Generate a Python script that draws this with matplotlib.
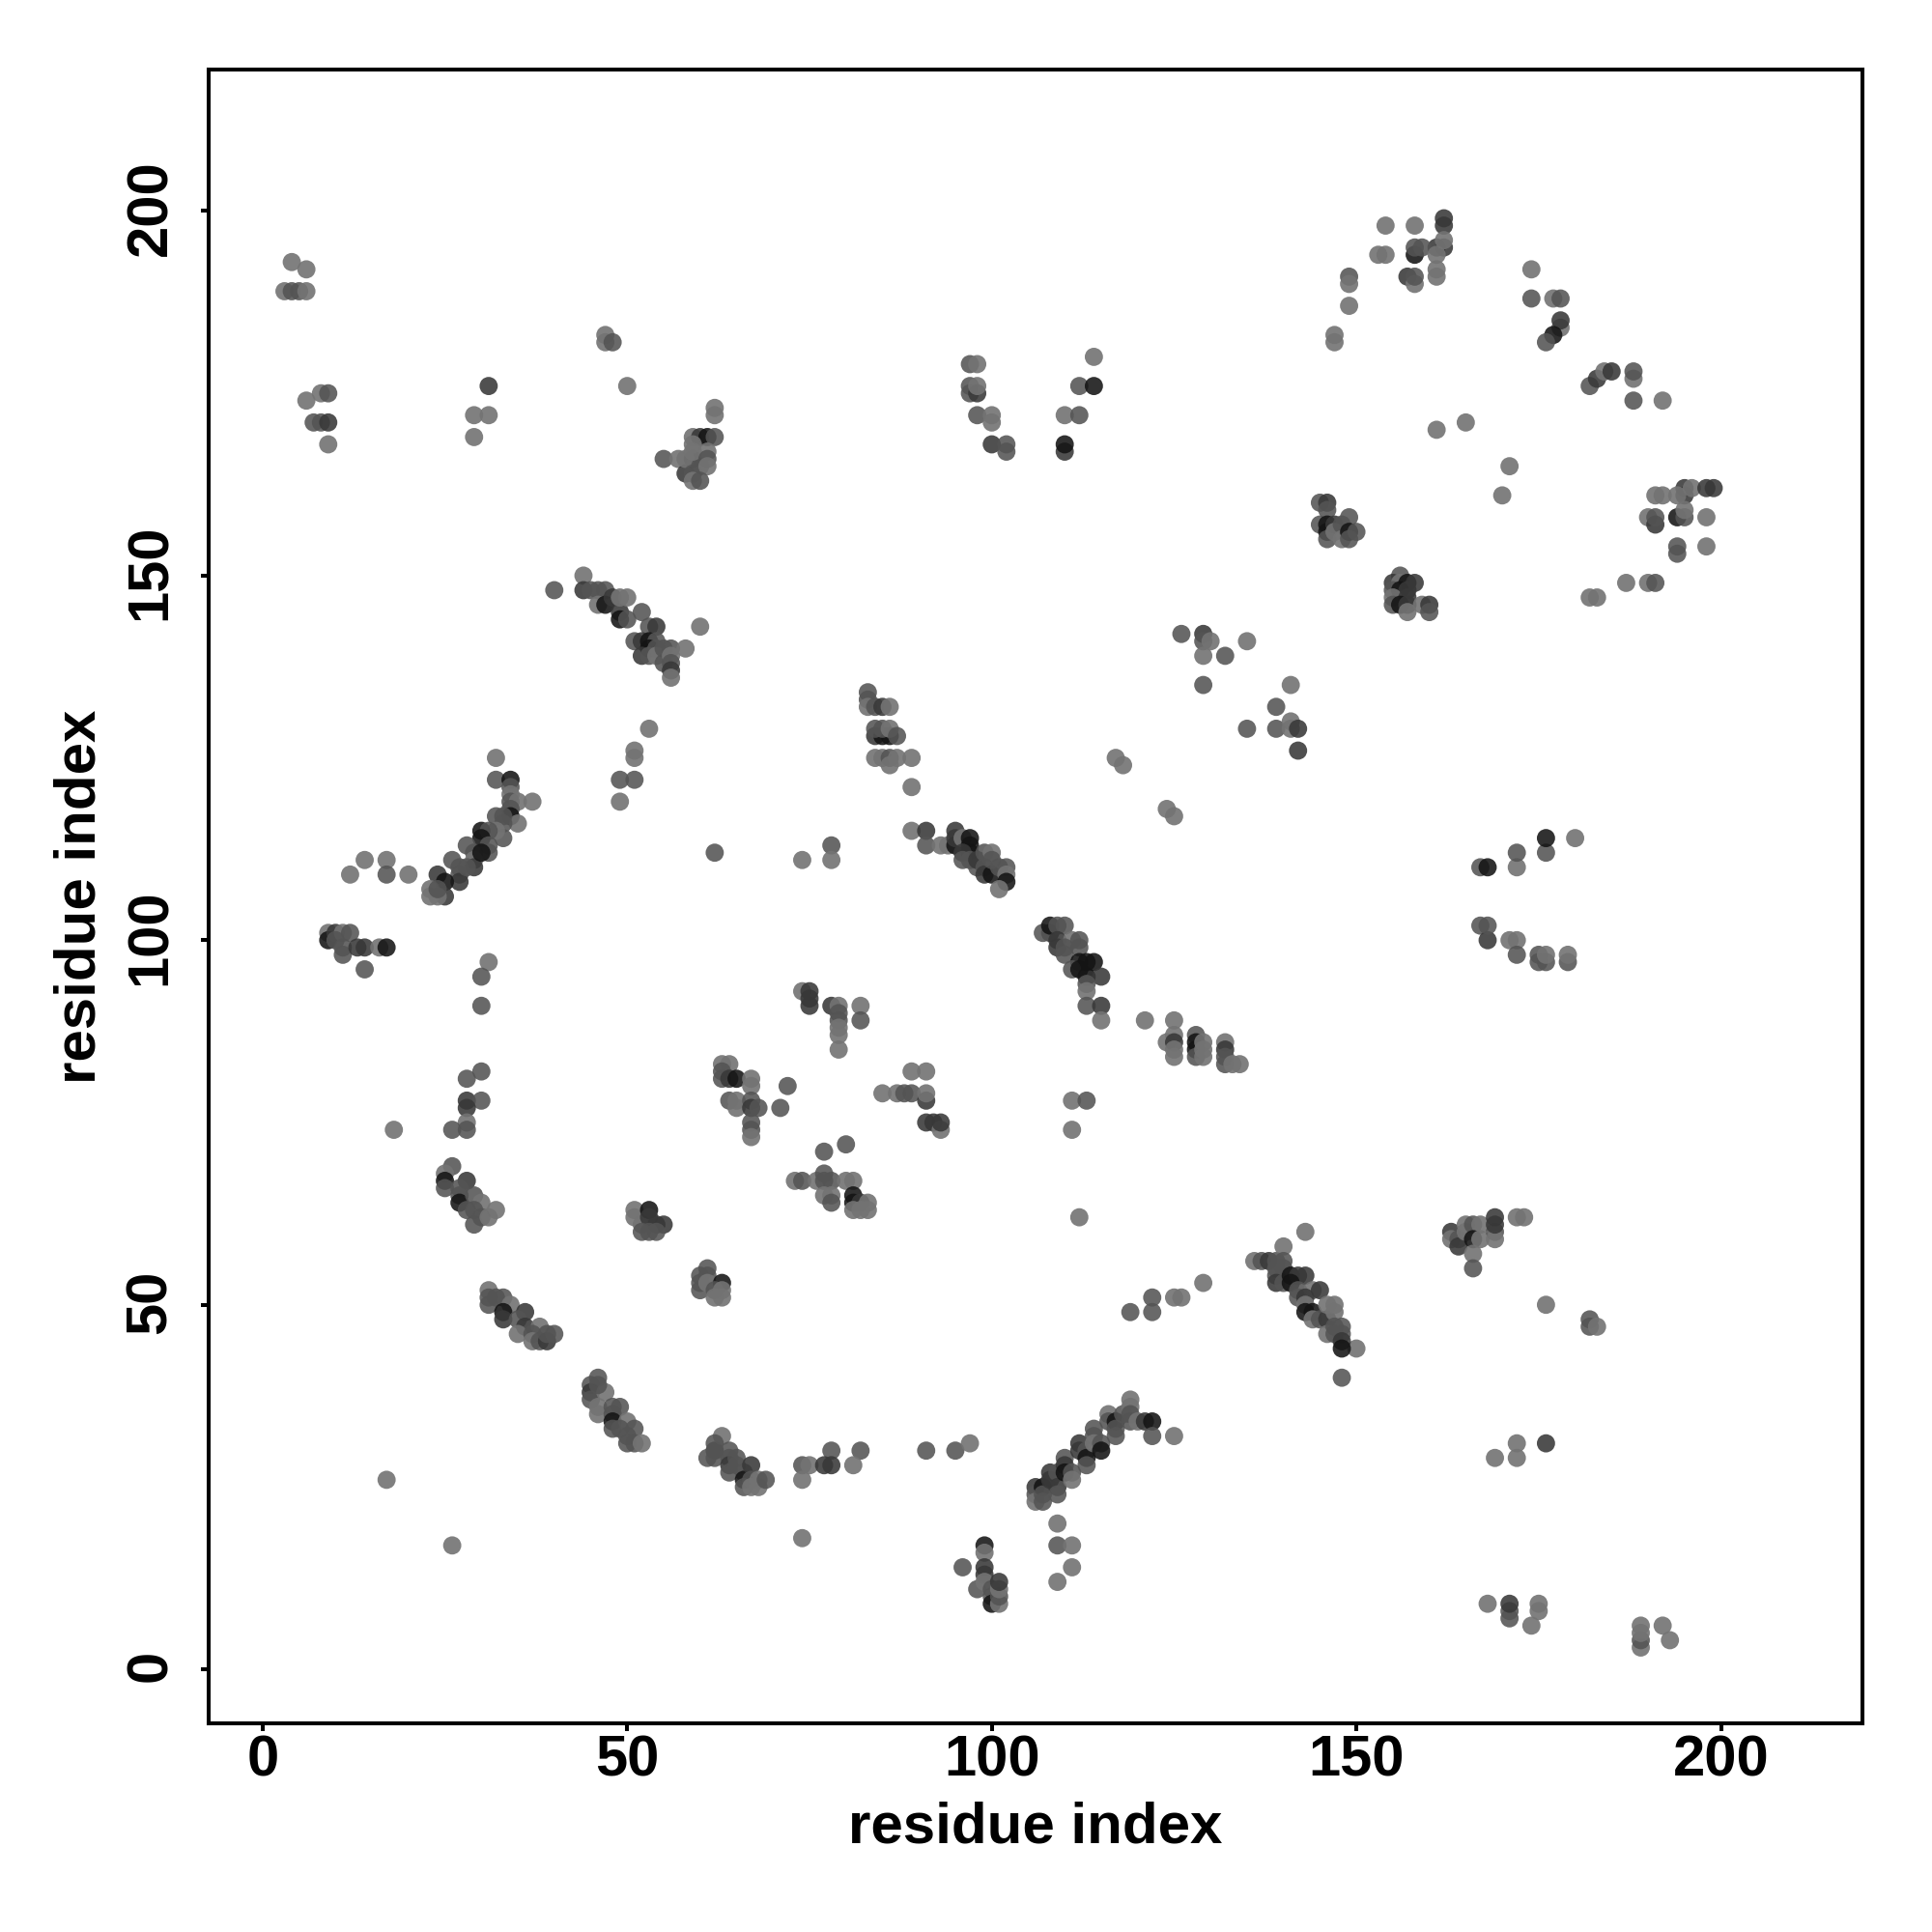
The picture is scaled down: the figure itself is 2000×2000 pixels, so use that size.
# -*- coding: utf-8 -*-
"""
Contact map, residue index vs residue index
"""

import numpy as np
import matplotlib
matplotlib.use('Agg')
import matplotlib.pyplot as plt
from matplotlib.transforms import ScaledTranslation

# (residue x, residue y, shade)
# shade: L light, M medium, D dark, K very dark
upper_left = [
    (4,193,'L'),(6,192,'L'),(3,189,'L'),(4,189,'M'),(5,189,'M'),(6,189,'L'),
    (8,175,'L'),(9,175,'M'),(6,174,'L'),(7,171,'M'),(8,171,'M'),(9,171,'D'),(9,168,'L'),
    (31,176,'D'),(29,172,'L'),(31,172,'L'),(29,169,'L'),
    (47,183,'L'),(47,182,'L'),(48,182,'M'),(50,176,'L'),
    (62,173,'L'),(62,172,'L'),(59,169,'L'),(60,169,'D'),(61,169,'K'),(62,169,'M'),
    (55,166,'M'),(57,166,'L'),(58,164,'D'),(59,166,'D'),(58,166,'L'),(59,164,'M'),
    (60,165,'M'),(59,168,'L'),(59,167,'L'),(61,167,'L'),(61,166,'M'),(61,165,'L'),
    (59,163,'L'),(60,163,'M'),
]
strand_150 = [
    (40,148,'M'),(44,150,'L'),(44,148,'D'),(45,148,'M'),(46,148,'M'),(47,148,'M'),
    (46,146,'L'),(47,146,'K'),(48,147,'D'),(49,145,'D'),(49,147,'L'),(50,147,'L'),
    (49,144,'K'),(50,144,'M'),(51,141,'M'),(52,145,'M'),(53,143,'M'),(54,143,'D'),
    (52,141,'D'),(53,141,'K'),(54,141,'M'),(53,140,'K'),(54,140,'M'),(52,139,'D'),
    (53,139,'M'),(54,139,'L'),(55,140,'M'),(55,138,'M'),(56,140,'M'),(56,139,'L'),
    (56,138,'M'),(56,137,'D'),(56,136,'L'),(58,140,'L'),(60,143,'L'),
]
left_middle = [
    (53,129,'L'),(51,126,'L'),(51,125,'L'),(49,122,'M'),(51,122,'M'),(49,119,'L'),
    (32,125,'L'),(32,122,'M'),(34,122,'K'),(34,121,'M'),(34,120,'L'),(34,119,'M'),
    (35,119,'L'),(37,119,'L'),(34,118,'M'),(34,117,'K'),(35,116,'L'),
    (32,117,'M'),(33,117,'M'),(33,116,'M'),(33,114,'M'),(32,115,'L'),
    (30,115,'K'),(31,115,'M'),(30,114,'K'),(31,113,'M'),(31,112,'M'),
    (28,113,'M'),(29,112,'M'),(29,111,'L'),(29,110,'D'),(30,112,'K'),
    (26,111,'M'),(27,110,'M'),(27,109,'M'),(27,108,'D'),(28,110,'M'),
    (24,109,'D'),(25,108,'K'),(25,106,'D'),(24,106,'L'),(23,106,'L'),(23,107,'L'),(24,107,'M'),
    (14,111,'L'),(17,111,'L'),(12,109,'L'),(17,109,'M'),(20,109,'L'),
    (9,101,'L'),(9,100,'K'),(10,101,'D'),(11,101,'L'),(12,101,'M'),(10,100,'M'),
    (11,99,'M'),(11,98,'M'),(13,99,'D'),(14,99,'D'),(16,99,'L'),(17,99,'K'),(14,96,'M'),
    (31,97,'L'),(30,95,'M'),(30,91,'M'),(62,112,'M'),
    (30,82,'M'),(28,81,'M'),(28,78,'D'),(30,78,'M'),(28,77,'D'),(28,75,'L'),(28,74,'M'),
    (26,74,'M'),(18,74,'L'),
]
lower_left = [
    (26,69,'M'),(25,68,'L'),(25,67,'K'),(25,66,'M'),(28,67,'D'),(27,66,'M'),(27,65,'M'),
    (27,64,'K'),(29,65,'M'),(30,64,'L'),(32,63,'L'),(28,63,'M'),(29,63,'M'),
    (29,61,'M'),(30,62,'M'),(31,62,'L'),
    (31,52,'L'),(31,51,'M'),(31,50,'M'),(33,51,'M'),(32,51,'M'),(34,50,'L'),(33,49,'K'),
    (33,48,'D'),(36,49,'D'),(35,48,'M'),(36,47,'D'),(35,46,'L'),(38,47,'L'),(37,46,'M'),
    (37,45,'L'),(38,45,'M'),(39,45,'D'),(39,46,'M'),(40,46,'M'),
    (46,40,'M'),(45,39,'M'),(45,38,'D'),(45,37,'M'),(47,38,'L'),(46,39,'M'),(46,36,'L'),
    (46,35,'L'),(48,36,'M'),(49,36,'M'),(48,35,'M'),(48,34,'K'),(48,33,'M'),(50,34,'L'),
    (49,33,'M'),(51,33,'M'),(50,32,'M'),(50,31,'M'),(51,31,'M'),(52,31,'L'),
    (62,30,'D'),(63,32,'L'),(62,31,'M'),(61,29,'M'),(62,29,'M'),(64,30,'M'),(64,29,'M'),
    (64,28,'D'),(64,27,'M'),(65,29,'M'),(65,28,'M'),(66,27,'M'),(66,26,'K'),(66,25,'M'),
    (67,28,'D'),(67,26,'M'),(67,25,'L'),(68,26,'L'),(68,25,'L'),(69,26,'M'),
    (17,26,'L'),(26,17,'L'),
    (61,55,'M'),(60,54,'M'),(60,53,'M'),(60,52,'M'),(61,54,'M'),(61,53,'L'),(63,53,'K'),
    (62,52,'M'),(63,52,'L'),(62,51,'L'),(63,51,'L'),
    (51,63,'L'),(51,62,'L'),(52,61,'L'),(53,63,'K'),(53,62,'D'),(54,61,'D'),(55,61,'D'),
    (52,60,'M'),(53,60,'M'),(54,60,'M'),
]
centre = [
    (63,83,'L'),(64,83,'L'),(63,82,'M'),(63,81,'M'),(64,81,'D'),(65,81,'K'),(67,81,'L'),
    (67,80,'L'),(64,78,'M'),(65,78,'L'),(65,77,'L'),(67,78,'M'),(67,77,'D'),(68,77,'M'),
    (67,75,'M'),(67,74,'M'),(67,73,'L'),(72,80,'M'),(71,77,'M'),
    (74,93,'L'),(75,93,'D'),(75,92,'D'),(75,91,'D'),(78,91,'D'),(79,91,'L'),(79,90,'M'),
    (79,89,'M'),(79,88,'L'),(79,87,'L'),(79,85,'L'),(82,91,'L'),(82,89,'M'),
    (89,82,'L'),(91,82,'L'),(85,79,'L'),(87,79,'L'),(88,79,'M'),(89,79,'M'),(91,78,'D'),
    (91,79,'L'),(91,75,'D'),(92,75,'D'),(93,74,'L'),(93,75,'D'),
    (80,72,'M'),(77,71,'M'),(73,67,'L'),(74,67,'M'),(76,67,'L'),(77,68,'M'),(77,67,'M'),
    (78,67,'M'),(80,67,'L'),(81,67,'L'),(77,65,'L'),(78,65,'L'),(78,64,'M'),(81,65,'K'),
    (81,64,'K'),(82,64,'D'),(83,64,'L'),(81,63,'L'),(82,63,'L'),(83,63,'L'),
    (78,113,'M'),(78,111,'L'),(74,111,'L'),
    (111,78,'L'),(113,78,'M'),(111,74,'L'),(112,62,'L'),
]
mid_upper = [
    (83,134,'M'),(83,133,'M'),(83,132,'L'),(84,132,'M'),(85,132,'D'),(86,132,'L'),
    (84,128,'D'),(85,128,'K'),(86,128,'K'),(84,129,'M'),(85,129,'M'),(86,129,'L'),(87,128,'M'),
    (84,125,'L'),(85,125,'L'),(86,125,'M'),(87,125,'L'),(89,125,'L'),(86,124,'L'),(89,121,'L'),
    (89,115,'L'),(91,115,'D'),(91,113,'M'),(93,113,'L'),(94,113,'L'),(95,115,'D'),(95,113,'K'),
    (95,114,'D'),(96,114,'L'),(97,114,'K'),(97,113,'K'),(97,112,'K'),(96,112,'D'),(96,111,'M'),
    (97,111,'M'),(98,110,'M'),(98,111,'D'),(99,112,'M'),(100,112,'L'),(99,110,'M'),(99,109,'D'),
    (100,109,'K'),(100,111,'M'),(101,110,'M'),(102,110,'M'),(102,109,'L'),(102,108,'K'),(101,107,'L'),
    (108,101,'D'),(107,101,'M'),(108,102,'K'),(109,102,'M'),(110,102,'M'),(109,100,'D'),(109,99,'D'),
    (111,100,'L'),(112,100,'M'),(112,99,'M'),(110,99,'M'),(110,98,'M'),(112,97,'K'),(113,97,'K'),
    (114,97,'K'),(111,96,'M'),(112,96,'K'),(113,95,'K'),(115,95,'D'),(113,94,'M'),(113,93,'L'),
    (113,91,'M'),(115,91,'D'),(115,89,'L'),
    (121,89,'L'),(125,89,'L'),(124,86,'L'),(125,87,'L'),(125,86,'D'),(125,85,'L'),(125,84,'L'),
    (128,87,'M'),(128,86,'K'),(128,85,'K'),(128,84,'M'),(129,86,'L'),(129,85,'L'),(129,84,'L'),
    (132,86,'L'),(132,85,'D'),(132,84,'M'),(132,83,'M'),(133,83,'L'),(134,83,'L'),
    (126,142,'M'),(129,142,'D'),(129,141,'M'),(130,141,'L'),(135,141,'L'),(129,139,'L'),(132,139,'M'),
    (129,135,'M'),(141,135,'L'),(139,132,'M'),(135,129,'M'),(139,129,'M'),(141,130,'L'),(141,129,'L'),
    (142,129,'D'),(142,126,'D'),(117,125,'L'),(118,124,'L'),(124,118,'L'),(125,117,'L'),
]
top_centre = [
    (97,179,'M'),(98,179,'L'),(97,176,'M'),(97,175,'M'),(98,175,'D'),(98,176,'L'),(98,172,'M'),
    (100,172,'L'),(100,171,'L'),(100,168,'D'),(102,168,'M'),(102,167,'M'),(110,167,'D'),(110,168,'K'),
    (110,172,'L'),(112,172,'M'),(112,176,'M'),(114,176,'K'),(114,180,'L'),
]
upper_right = [
    (154,198,'L'),(158,198,'L'),(162,199,'D'),(162,198,'D'),(161,195,'D'),(162,195,'D'),(162,196,'L'),
    (158,194,'K'),(158,195,'M'),(159,195,'M'),(153,194,'L'),(154,194,'L'),(161,194,'L'),(157,191,'D'),
    (158,190,'L'),(158,191,'M'),(161,192,'L'),(161,191,'L'),(147,183,'L'),(147,182,'L'),
    (149,191,'M'),(149,190,'L'),(149,187,'L'),
    (174,192,'L'),(174,188,'M'),(177,188,'L'),(178,188,'M'),(178,184,'L'),(178,185,'D'),(177,183,'K'),(176,182,'M'),
    (182,176,'M'),(183,177,'D'),(184,178,'L'),(185,178,'D'),(188,177,'L'),(188,178,'M'),(188,174,'M'),(192,174,'L'),
    (161,170,'L'),(165,171,'L'),(171,165,'L'),(170,161,'L'),
    (195,161,'D'),(195,162,'D'),(194,161,'L'),(196,162,'L'),(198,162,'D'),(199,162,'D'),
    (191,161,'L'),(192,161,'L'),(190,158,'L'),(191,157,'D'),(191,158,'M'),(194,158,'K'),(195,158,'M'),
    (195,159,'L'),(198,158,'L'),(194,154,'M'),(194,153,'M'),(198,154,'L'),
    (187,149,'L'),(190,149,'L'),(191,149,'M'),(182,147,'L'),(183,147,'L'),
    (145,160,'M'),(146,160,'D'),(146,159,'M'),(145,157,'M'),(146,157,'K'),(146,156,'K'),(146,155,'M'),
    (147,157,'D'),(147,156,'L'),(148,157,'M'),(148,155,'L'),(149,158,'M'),(149,156,'K'),(149,155,'M'),(150,156,'M'),
    (156,150,'M'),(155,149,'D'),(156,149,'L'),(157,149,'K'),(158,149,'D'),(155,148,'M'),(156,148,'K'),
    (157,148,'D'),(155,147,'L'),(157,147,'D'),(155,146,'M'),(156,146,'K'),(157,146,'D'),(159,146,'L'),
    (160,146,'D'),(157,145,'L'),(160,145,'M'),
]
right_side = [
    (167,110,'M'),(168,110,'K'),(172,110,'L'),(172,112,'M'),(176,112,'M'),(176,114,'K'),(180,114,'L'),
    (167,102,'M'),(168,100,'D'),(168,102,'M'),(171,100,'L'),(172,100,'L'),(172,98,'M'),(175,97,'M'),
    (175,98,'M'),(176,97,'M'),(176,98,'L'),(179,97,'M'),(179,98,'L'),
    (163,60,'D'),(163,59,'L'),(164,59,'M'),(164,58,'D'),(165,60,'L'),(165,61,'L'),(166,61,'M'),
    (167,61,'L'),(166,59,'K'),(167,59,'L'),(166,57,'L'),(166,55,'M'),(169,60,'M'),(169,59,'L'),
    (169,61,'D'),(169,62,'D'),(172,62,'L'),(173,62,'L'),
    (176,50,'L'),(182,48,'M'),(182,47,'M'),(183,47,'L'),(150,44,'L'),
    (172,31,'L'),(176,31,'D'),(169,29,'L'),(172,29,'L'),
    (168,9,'L'),(171,7,'M'),(171,8,'M'),(171,9,'D'),(175,8,'L'),(175,9,'L'),(174,6,'L'),
    (189,3,'L'),(189,4,'M'),(189,5,'L'),(189,6,'L'),(192,6,'L'),(193,4,'L'),
]
lower_middle = [
    (78,30,'M'),(82,30,'M'),(74,28,'M'),(75,28,'L'),(77,28,'D'),(78,28,'D'),(81,28,'L'),(74,26,'L'),
    (74,18,'L'),(91,30,'M'),(95,30,'M'),(97,31,'L'),
    (99,17,'K'),(99,16,'L'),(99,14,'D'),(99,13,'D'),(96,14,'M'),(98,11,'M'),(99,12,'L'),(100,11,'M'),
    (100,10,'M'),(100,9,'K'),(101,9,'L'),(101,10,'M'),(101,11,'L'),(101,12,'D'),
    (109,20,'L'),(109,17,'M'),(111,17,'L'),(111,14,'L'),(109,12,'L'),
    (106,25,'D'),(106,24,'M'),(106,23,'L'),(107,25,'K'),(107,24,'M'),(107,23,'M'),(108,27,'D'),
    (108,26,'D'),(109,27,'M'),(109,25,'D'),(109,24,'M'),(110,29,'M'),(110,28,'D'),(110,27,'K'),
    (111,27,'M'),(111,26,'L'),(112,31,'D'),(112,30,'D'),(113,30,'M'),(113,29,'K'),(113,28,'M'),
    (114,33,'M'),(114,32,'M'),(114,31,'L'),(115,31,'M'),(115,30,'K'),(116,35,'L'),(116,34,'M'),
    (117,34,'K'),(117,33,'M'),(117,32,'M'),(118,35,'M'),(119,37,'L'),(119,36,'L'),(119,35,'M'),
    (119,34,'M'),(120,34,'L'),(121,34,'D'),(122,34,'K'),(122,32,'M'),(125,32,'L'),
    (119,49,'M'),(122,51,'M'),(122,49,'M'),(125,51,'L'),(126,51,'L'),(129,53,'L'),
]
strand_50 = [
    (136,56,'L'),(137,56,'M'),(138,56,'D'),(139,56,'M'),(140,58,'L'),(143,60,'L'),(140,56,'M'),
    (139,55,'M'),(140,55,'M'),(139,54,'M'),(139,53,'D'),(140,53,'M'),(141,54,'K'),(142,54,'D'),
    (143,54,'D'),(141,53,'K'),(142,52,'M'),(142,51,'M'),(144,52,'L'),(145,52,'D'),(143,51,'D'),
    (143,50,'L'),(143,49,'K'),(144,49,'K'),(144,48,'L'),(145,48,'M'),(146,48,'D'),(146,50,'L'),
    (147,50,'L'),(147,49,'L'),(146,46,'L'),(147,47,'M'),(147,46,'M'),(148,47,'M'),(148,46,'M'),
    (148,45,'D'),(148,44,'K'),(148,40,'M'),
]

tick_values = [0, 50, 100, 150, 200]
axis_label = 'residue index'

contacts = (upper_left + strand_150 + left_middle + lower_left + centre + mid_upper
            + top_centre + upper_right + right_side + lower_middle + strand_50)
x = np.array([c[0] for c in contacts])
y = np.array([c[1] for c in contacts])

# nearly opaque greys, a light dot stays light on top of a dark one
shade_rgba = {'L': (0.45, 0.45, 0.45, 0.91),
              'M': (0.33, 0.33, 0.33, 0.88),
              'D': (0.22, 0.22, 0.22, 0.88),
              'K': (0.08, 0.08, 0.08, 0.88)}
colors = [shade_rgba[c[2]] for c in contacts]

plt.rcParams['font.family'] = ['Liberation Sans', 'DejaVu Sans']
plt.rcParams['font.weight'] = 'bold'

fig = plt.figure(figsize=(10, 10), dpi=200)
ax = fig.add_axes([216/2000, 1 - 1784/2000, (1928 - 216)/2000, (1784 - 72)/2000])
ax.scatter(x, y, s=46, c=colors, linewidths=0, zorder=3)
ax.set_xlim(-7.4, 219.4)
ax.set_ylim(-7.4, 219.4)
ax.set_xticks(tick_values)
ax.set_yticks(tick_values)
ax.tick_params(axis='both', length=2.9, width=1.45, labelsize=21.5)
ax.tick_params(axis='x', pad=1.2)
ax.tick_params(axis='y', pad=8.6)
# rotated labels sit a bit low otherwise
nudge = ScaledTranslation(0, 1.2/72, fig.dpi_scale_trans)
for lab in ax.get_yticklabels():
    lab.set_rotation(90)
    lab.set_va('center')
    lab.set_transform(lab.get_transform() + nudge)
for side in ax.spines.values():
    side.set_linewidth(1.45)
ax.set_xlabel(axis_label, fontsize=21.6, fontweight='bold', labelpad=5)
ax.set_ylabel(axis_label, fontsize=21.6, fontweight='bold', labelpad=6.6)

plt.savefig('out.png', dpi=200)
